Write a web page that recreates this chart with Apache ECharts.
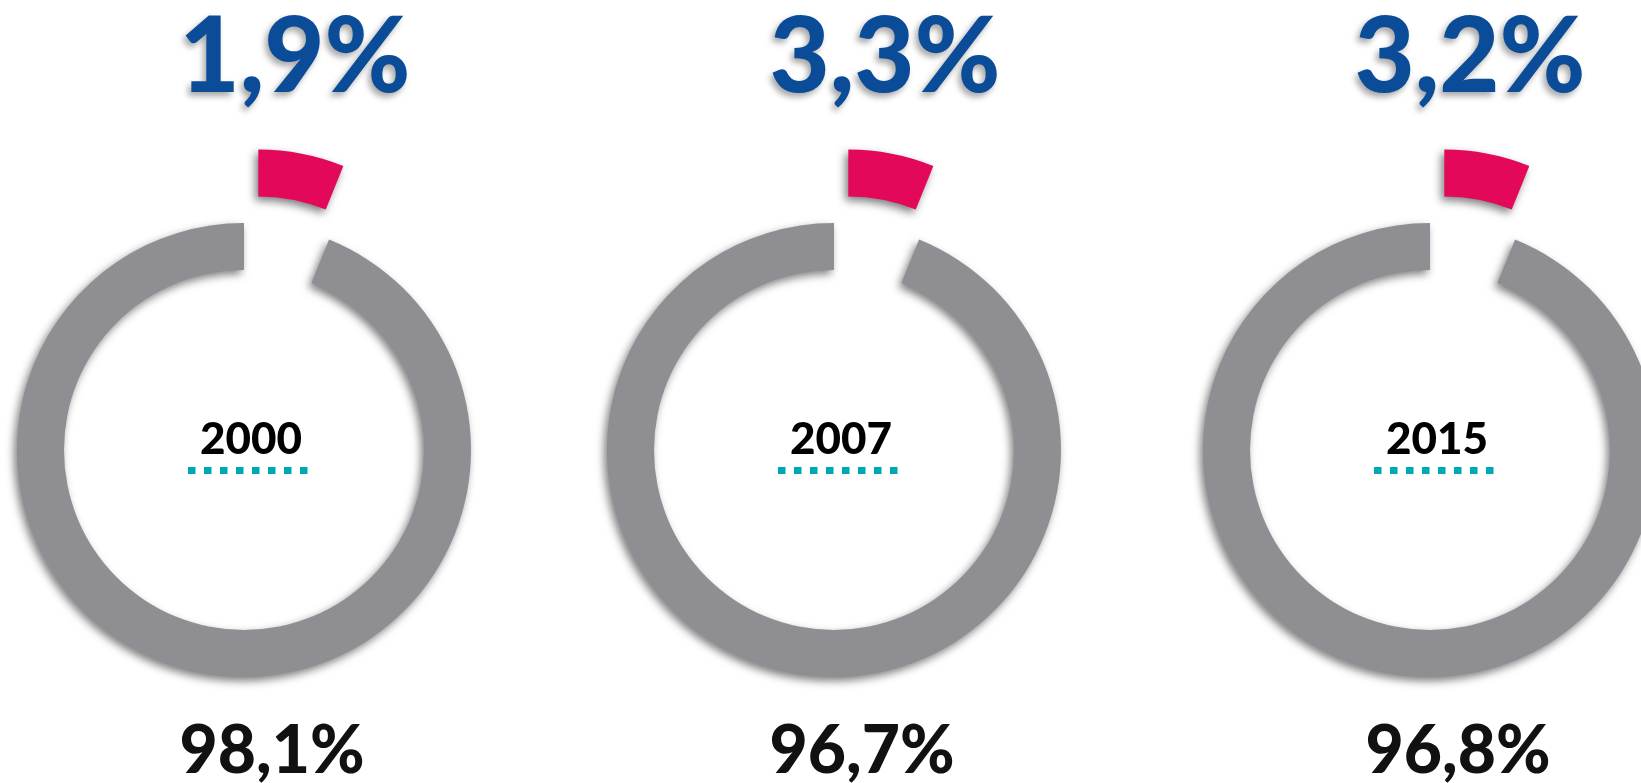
<!DOCTYPE html>
<html>
<head>
<meta charset="utf-8">
<script src="https://cdn.jsdelivr.net/npm/echarts@6/dist/echarts.min.js"></script>
<style>
  html, body { margin: 0; padding: 0; background: #fff; }
  #chart { width: 1641px; height: 783px; }
</style>
</head>
<body>
<div id="chart"></div>
<script>
const years = ['2000', '2007', '2015'];
const smallShare = [1.9, 3.3, 3.2];
const largeShare = [98.1, 96.7, 96.8];

const centersX = [244, 834, 1430];
const topLabelShift = [51, 51, 40];
const centerY = 450;
const fontFamily = 'Lato, "Open Sans", sans-serif';

function fmt(v) {
  return v.toFixed(1).replace('.', ',') + '%';
}

const shadow = {
  shadowBlur: 9,
  shadowColor: 'rgba(0,0,0,0.5)',
  shadowOffsetX: -3,
  shadowOffsetY: 4,
};

const series = years.map((year, i) => ({
  type: 'pie',
  center: [centersX[i], centerY],
  radius: [180, 227],
  startAngle: 90,
  clockwise: true,
  minAngle: 22,
  avoidLabelOverlap: false,
  selectedMode: 'single',
  selectedOffset: 75,
  silent: true,
  label: { show: false },
  labelLine: { show: false },
  emphasis: { disabled: true },
  data: [
    { name: 'small', value: smallShare[i], selected: true, itemStyle: { color: '#e3085a', ...shadow } },
    { name: 'large', value: largeShare[i], itemStyle: { color: '#8f8e93', ...shadow } },
  ],
}));

const graphics = [];
years.forEach((year, i) => {
  const cx = centersX[i];
  graphics.push({
    type: 'text',
    x: cx + topLabelShift[i], y: 58,
    style: {
      text: fmt(smallShare[i]),
      font: '900 104px ' + fontFamily,
      fill: '#0a4c97',
      align: 'center', verticalAlign: 'middle',
      textShadowColor: 'rgba(0,0,0,0.35)', textShadowBlur: 6,
      textShadowOffsetX: -3, textShadowOffsetY: 4,
    },
  });
  graphics.push({
    type: 'text',
    x: cx + 7, y: 440,
    style: {
      text: year,
      font: '900 44px ' + fontFamily,
      fill: '#000',
      align: 'center', verticalAlign: 'middle',
    },
  });
  graphics.push({
    type: 'line',
    shape: { x1: cx - 56, y1: 470.5, x2: cx + 64, y2: 470.5 },
    style: { stroke: '#00a6b4', lineWidth: 7, lineDash: [7.5, 8.5] },
  });
  graphics.push({
    type: 'text',
    x: cx + 28, y: 752,
    style: {
      text: fmt(largeShare[i]),
      font: '900 66px ' + fontFamily,
      fill: '#111',
      align: 'center', verticalAlign: 'middle',
    },
  });
});

const chart = echarts.init(document.getElementById('chart'));
chart.setOption({
  animation: false,
  backgroundColor: '#fff',
  series: series,
  graphic: graphics,
});
</script>
</body>
</html>
